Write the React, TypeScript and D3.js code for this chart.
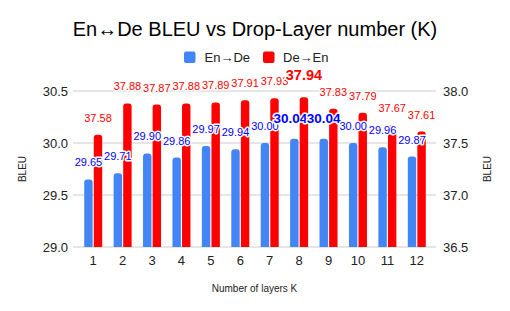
import React from "react";
import * as d3 from "d3";

const layers = ["1", "2", "3", "4", "5", "6", "7", "8", "9", "10", "11", "12"];
const enDe = [29.65, 29.71, 29.9, 29.86, 29.97, 29.94, 30.0, 30.04, 30.04, 30.0, 29.96, 29.87];
const deEn = [37.58, 37.88, 37.87, 37.88, 37.89, 37.91, 37.93, 37.94, 37.83, 37.79, 37.67, 37.61];
const leftTicks = [29.0, 29.5, 30.0, 30.5];
const rightTicks = [36.5, 37.0, 37.5, 38.0];
// labels drawn bold (the best scores)
const boldEnDe = [7, 8];
const boldDeEn = [7];

const BLUE = "#4285f4";
const RED = "#ff0000";
const FONT = "'Liberation Sans', Arial, sans-serif";

// bar with rounded top corners
function topRounded(x: number, y: number, w: number, h: number, r: number) {
  const rr = Math.min(r, w / 2, h);
  return `M${x},${y + h}V${y + rr}Q${x},${y} ${x + rr},${y}H${x + w - rr}Q${x + w},${y} ${x + w},${y + rr}V${y + h}Z`;
}

export default function App() {
  const width = 510;
  const height = 311;
  const top = 91;
  const bottom = 247;
  const left = 73;
  const right = 436;

  const x = d3.scaleBand<string>().domain(layers).range([78.5, 431.5]);
  const inner = d3.scaleBand<string>().domain(["a", "b"]).range([-9, 9]).paddingInner(0.12);
  const yL = d3.scaleLinear().domain([29, 30.5]).range([bottom, top]);
  const yR = d3.scaleLinear().domain([36.5, 38]).range([bottom, top]);

  const halo = { paintOrder: "stroke" as const, stroke: "#fff", strokeWidth: 3, strokeLinejoin: "round" as const };

  return (
    <div style={{ position: "fixed", left: 0, top: 0 }}>
      <svg width={width} height={height} style={{ display: "block", background: "#fff" }} fontFamily={FONT}>
        <text x={255} y={36} textAnchor="middle" fontSize={20} fill="#000">
          En↔De BLEU vs Drop-Layer number (K)
        </text>

        {/* legend */}
        <rect x={184} y={51.5} width={11.5} height={11.5} rx={2} fill={BLUE} />
        <text x={204.5} y={61.5} fontSize={13} fill="#222">En→De</text>
        <rect x={263} y={51.5} width={11.5} height={11.5} rx={2} fill={RED} />
        <text x={283} y={61.5} fontSize={13} fill="#222">De→En</text>

        {/* grid */}
        {leftTicks.map((t) => (
          <line key={t} x1={left} x2={right} y1={yL(t)} y2={yL(t)} stroke="#cccccc" strokeWidth={1} />
        ))}
        {leftTicks.map((t) => (
          <text key={"l" + t} x={68} y={yL(t) + 4.5} textAnchor="end" fontSize={13} fill="#222">
            {t.toFixed(1)}
          </text>
        ))}
        {rightTicks.map((t) => (
          <text key={"r" + t} x={443} y={yR(t) + 4.5} fontSize={13} fill="#222">
            {t.toFixed(1)}
          </text>
        ))}

        <text transform={`translate(26,${(top + bottom) / 2}) rotate(-90)`} textAnchor="middle" fontSize={10} fill="#222">
          BLEU
        </text>
        <text transform={`translate(491,${(top + bottom) / 2}) rotate(-90)`} textAnchor="middle" fontSize={10} fill="#222">
          BLEU
        </text>

        {/* bars */}
        {layers.map((k, i) => {
          const cx = (x(k) ?? 0) + x.bandwidth() / 2;
          const bx = cx + (inner("a") ?? 0);
          const rx = cx + (inner("b") ?? 0);
          const bw = inner.bandwidth();
          const by = yL(enDe[i]);
          const ry = yR(deEn[i]);
          return (
            <g key={k}>
              <path d={topRounded(bx, by, bw, bottom - by, 3)} fill={BLUE} />
              <path d={topRounded(rx, ry, bw, bottom - ry, 3)} fill={RED} />
            </g>
          );
        })}

        {/* value labels */}
        {layers.map((k, i) => {
          const cx = (x(k) ?? 0) + x.bandwidth() / 2;
          const bw = inner.bandwidth();
          const bcx = cx + (inner("a") ?? 0) + bw / 2;
          const rcx = cx + (inner("b") ?? 0) + bw / 2;
          const bBold = boldEnDe.includes(i);
          const rBold = boldDeEn.includes(i);
          // the two bold blue labels collide; nudge the first one left
          const bdx = bBold && boldEnDe.includes(i + 1) ? -4 : 0;
          return (
            <g key={"lab" + k}>
              <text
                x={bcx + bdx}
                y={yL(enDe[i]) - (bBold ? 16 : 13)}
                textAnchor="middle"
                fontSize={bBold ? 13.5 : 11}
                fontWeight={bBold ? "bold" : "normal"}
                fill="#0000ff"
                {...halo}
              >
                {enDe[i].toFixed(2)}
              </text>
              <text
                x={rcx}
                y={yR(deEn[i]) - (rBold ? 17 : 13)}
                textAnchor="middle"
                fontSize={rBold ? 14.5 : 11}
                fontWeight={rBold ? "bold" : "normal"}
                fill="#ff0000"
                {...halo}
              >
                {deEn[i].toFixed(2)}
              </text>
            </g>
          );
        })}

        {/* x axis */}
        {layers.map((k) => (
          <text key={"x" + k} x={(x(k) ?? 0) + x.bandwidth() / 2} y={264.5} textAnchor="middle" fontSize={13} fill="#222">
            {k}
          </text>
        ))}
        <text x={254.5} y={292} textAnchor="middle" fontSize={10} fill="#222">
          Number of layers K
        </text>
      </svg>
    </div>
  );
}
